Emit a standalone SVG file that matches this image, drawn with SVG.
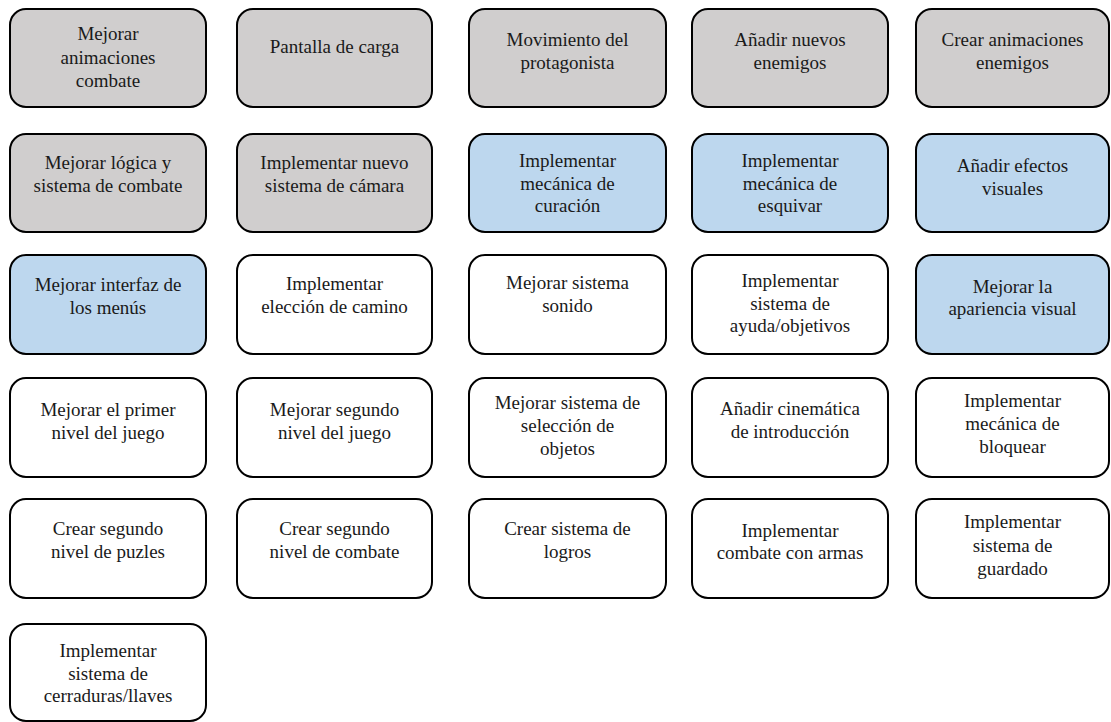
<svg xmlns="http://www.w3.org/2000/svg" width="1111" height="722" viewBox="0 0 1111 722">
<defs>
<style>
.n rect { stroke:#000; stroke-width:2; }
.g rect { fill:#d0cece; }
.b rect { fill:#bdd7ee; }
.w rect { fill:#ffffff; }
.n text { font-family:"Liberation Serif","Times New Roman",serif; font-size:19px; fill:#1a1a1a; text-anchor:middle; }
</style>
</defs>
<rect width="1111" height="722" fill="#ffffff"/>
<g id="connectors"></g>

<!-- Row 1 -->
<g id="n1" class="n g"><rect x="10" y="9" width="196" height="98" rx="16"/>
<text x="108" y="40">Mejorar</text><text x="108" y="63.5">animaciones</text><text x="108" y="87">combate</text></g>
<g id="n2" class="n g"><rect x="237" y="9" width="195" height="98" rx="16"/>
<text x="334.5" y="53">Pantalla de carga</text></g>
<g id="n3" class="n g"><rect x="469" y="9" width="197" height="98" rx="16"/>
<text x="567.5" y="46">Movimiento del</text><text x="567.5" y="69">protagonista</text></g>
<g id="n4" class="n g"><rect x="692" y="9" width="196" height="98" rx="16"/>
<text x="790" y="46">Añadir nuevos</text><text x="790" y="69">enemigos</text></g>
<g id="n5" class="n g"><rect x="916" y="9" width="193" height="98" rx="16"/>
<text x="1012.5" y="46">Crear animaciones</text><text x="1012.5" y="69">enemigos</text></g>

<!-- Row 2 -->
<g id="n6" class="n g"><rect x="10" y="134" width="196" height="98" rx="16"/>
<text x="108" y="169">Mejorar lógica y</text><text x="108" y="192">sistema de combate</text></g>
<g id="n7" class="n g"><rect x="237" y="134" width="195" height="98" rx="16"/>
<text x="334.5" y="169">Implementar nuevo</text><text x="334.5" y="192">sistema de cámara</text></g>
<g id="n8" class="n b"><rect x="469" y="134" width="197" height="98" rx="16"/>
<text x="567.5" y="167">Implementar</text><text x="567.5" y="189.5">mecánica de</text><text x="567.5" y="212">curación</text></g>
<g id="n9" class="n b"><rect x="692" y="134" width="196" height="98" rx="16"/>
<text x="790" y="167">Implementar</text><text x="790" y="189.5">mecánica de</text><text x="790" y="212">esquivar</text></g>
<g id="n10" class="n b"><rect x="916" y="134" width="193" height="98" rx="16"/>
<text x="1012.5" y="172">Añadir efectos</text><text x="1012.5" y="195">visuales</text></g>

<!-- Row 3 -->
<g id="n11" class="n b"><rect x="10" y="255" width="196" height="99" rx="16"/>
<text x="108" y="291">Mejorar interfaz de</text><text x="108" y="314">los menús</text></g>
<g id="n12" class="n w"><rect x="237" y="255" width="195" height="99" rx="16"/>
<text x="334.5" y="290">Implementar</text><text x="334.5" y="313">elección de camino</text></g>
<g id="n13" class="n w"><rect x="469" y="255" width="197" height="99" rx="16"/>
<text x="567.5" y="289">Mejorar sistema</text><text x="567.5" y="312">sonido</text></g>
<g id="n14" class="n w"><rect x="692" y="255" width="196" height="99" rx="16"/>
<text x="790" y="287">Implementar</text><text x="790" y="309.5">sistema de</text><text x="790" y="332">ayuda/objetivos</text></g>
<g id="n15" class="n b"><rect x="916" y="255" width="193" height="99" rx="16"/>
<text x="1012.5" y="293">Mejorar la</text><text x="1012.5" y="315">apariencia visual</text></g>

<!-- Row 4 -->
<g id="n16" class="n w"><rect x="10" y="378" width="196" height="99" rx="16"/>
<text x="108" y="416">Mejorar el primer</text><text x="108" y="439">nivel del juego</text></g>
<g id="n17" class="n w"><rect x="237" y="378" width="195" height="99" rx="16"/>
<text x="334.5" y="416">Mejorar segundo</text><text x="334.5" y="439">nivel del juego</text></g>
<g id="n18" class="n w"><rect x="469" y="378" width="197" height="99" rx="16"/>
<text x="567.5" y="408.5">Mejorar sistema de</text><text x="567.5" y="431.5">selección de</text><text x="567.5" y="454.5">objetos</text></g>
<g id="n19" class="n w"><rect x="692" y="378" width="196" height="99" rx="16"/>
<text x="790" y="415">Añadir cinemática</text><text x="790" y="438">de introducción</text></g>
<g id="n20" class="n w"><rect x="916" y="378" width="193" height="99" rx="16"/>
<text x="1012.5" y="407">Implementar</text><text x="1012.5" y="430">mecánica de</text><text x="1012.5" y="453">bloquear</text></g>

<!-- Row 5 -->
<g id="n21" class="n w"><rect x="10" y="499" width="196" height="99" rx="16"/>
<text x="108" y="535">Crear segundo</text><text x="108" y="558">nivel de puzles</text></g>
<g id="n22" class="n w"><rect x="237" y="499" width="195" height="99" rx="16"/>
<text x="334.5" y="535">Crear segundo</text><text x="334.5" y="558">nivel de combate</text></g>
<g id="n23" class="n w"><rect x="469" y="499" width="197" height="99" rx="16"/>
<text x="567.5" y="535">Crear sistema de</text><text x="567.5" y="558">logros</text></g>
<g id="n24" class="n w"><rect x="692" y="499" width="196" height="99" rx="16"/>
<text x="790" y="537">Implementar</text><text x="790" y="559">combate con armas</text></g>
<g id="n25" class="n w"><rect x="916" y="499" width="193" height="99" rx="16"/>
<text x="1012.5" y="528">Implementar</text><text x="1012.5" y="551.5">sistema de</text><text x="1012.5" y="575">guardado</text></g>

<!-- Row 6 -->
<g id="n26" class="n w"><rect x="10" y="624" width="196" height="97" rx="16"/>
<text x="108" y="657">Implementar</text><text x="108" y="679.5">sistema de</text><text x="108" y="702">cerraduras/llaves</text></g>
</svg>
